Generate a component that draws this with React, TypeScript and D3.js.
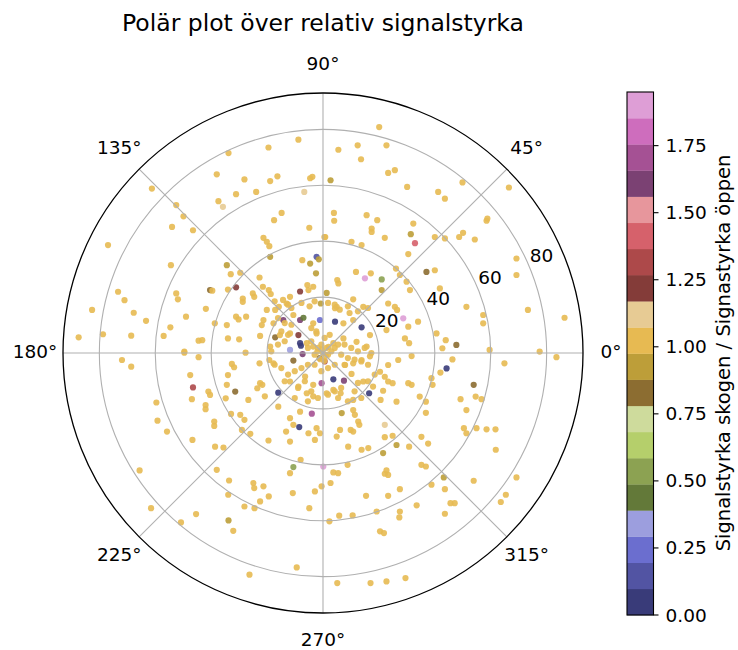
import React, { useEffect, useRef } from 'react';
import * as d3 from 'd3';

const TITLE = 'Polär plot över relativ signalstyrka';
const CBAR_LABEL = 'Signalstyrka skogen / Signastyrka öppen';
const angleTicks = [0, 45, 90, 135, 180, 225, 270, 315];
const radialTicks = [20, 40, 60, 80];
const colorTicks = [0, 0.25, 0.5, 0.75, 1.0, 1.25, 1.5, 1.75];
const R_MAX = 93;
const V_MAX = 1.95;
const RLABEL_ANGLE = 22.5;

const tab20b = [
  '#393b79', '#5254a3', '#6b6ecf', '#9c9ede', '#637939', '#8ca252', '#b5cf6b', '#cedb9c',
  '#8c6d31', '#bd9e39', '#e7ba52', '#e7cb94', '#843c39', '#ad494a', '#d6616b', '#e7969c',
  '#7b4173', '#a55194', '#ce6dbd', '#de9ed6',
];

// Each point: [east component, north component, ratio skog/öppen] (in radial units)
const nwPoints: number[][] = [
  [-8.8,76.3,1],[-19.5,73.5,1],[-33.8,71.5,1],[-38.0,63.9,1],[-28.1,62.1,1],[-18.9,61.5,1],[-16.3,63.2,1],[-4.6,62.5,1],
  [-3.8,63.0,1],[-61.2,58.8,1],[-31.1,56.8,1],[-23.9,57.6,1.05],[-37.4,54.3,1],[-35.8,52.3,1.1],[-6.7,57.6,1.1],[-52.5,52.9,1],
  [-49.9,48.9,1],[-14.8,50.1,1.05],[-17.5,47.5,1],[-54.0,45.1,1],[-46.5,43.9,1],[-4.9,44.8,1],[-76.9,38.6,1],[-21.3,41.2,1],
  [-20.1,39.8,1],[-19.2,38.2,1],[-18.9,34.4,0.93],[-54.4,31.4,1],[-34.4,31.4,0.93],[-33.0,28.2,1],[-29.6,28.7,1],[-22.7,27.0,1],
  [-7.4,33.2,1],[-4.6,32.0,0.93],[-2.3,34.4,0.15],[-1.5,33.5,0.93],[-2.5,28.5,0.93],[0.8,41.5,1],[-73.3,21.9,1],[-71.0,18.9,1],
  [-82.6,15.4,1],[-67.7,14.4,1],[-63.3,11.5,1],[-87.4,5.6,1],[-78.7,6.7,1],[-68.6,6.2,1],[-57.0,6.1,1],[-54.6,9.2,1],
  [-52.5,21.3,1],[-51.9,19.2,1],[-49.0,13.0,1],[-41.9,15.8,1],[-44.5,4.4,1],[-43.2,4.6,1],[-40.4,22.5,0.8],[-39.6,22.3,1],
  [-34.0,22.7,1],[-31.1,23.5,1.25],[-28.7,19.5,1],[-28.7,18.3,1],[-25.1,21.3,1],[-24.6,20.1,1],[-21.5,23.7,1],[-19.4,22.5,1],
  [-18.7,21.1,1],[-38.7,10.6,1],[-34.4,10.0,1],[-31.1,13.0,1],[-30.2,12.0,1],[-27.5,13.0,1],[-34.0,5.2,1],[-30.0,4.9,1],
  [-22.5,6.1,1],[-21.9,10.0,1],[-21.3,11.8,1],[-20.1,15.4,1],[-17.1,15.4,1],[-15.8,16.5,1],[-13.0,17.7,1],[-11.8,20.1,1],
  [-8.2,22.0,1.25],[-5.6,24.3,1],[-5.2,22.5,1],[-3.5,23.7,1],[-0.8,17.7,0.93],[-17.7,10.6,1],[-14.2,11.8,1.6],[-10.6,13.6,1],
  [-8.2,11.8,1.6],[-7.0,12.6,0.42],[-3.5,10.6,1],[-1.1,11.8,0.25],[-17.1,5.6,0.85],[-15.4,6.4,1],[-11.8,7.0,1],[-8.8,6.4,1.25],
  [-8.2,3.5,0.03],[-5.8,3.5,1],[-2.3,7.0,1],[-11.8,1.1,0.35],[-18.9,2.3,1],[-49.6,0.5,1],[-3.5,2.3,1],[-7.9,2.6,0.03],
];

const nePoints: number[][] = [
  [20.1,80.8,1],[5.5,72.7,1],[12.4,74.3,1],[13.6,69.3,1],[22.7,74.3,1],[23.3,64.4,1],[25.7,65.4,1],[2.7,61.8,0.93],
  [30.1,59.4,1],[41.2,57.6,1],[43.6,55.2,1],[49.9,61.0,1],[66.5,59.2,1],[3.9,50.1,1],[4.0,47.3,1],[15.6,49.3,1],
  [19.4,47.5,1],[17.4,44.5,1],[17.4,43.3,1],[22.1,41.2,1],[32.3,46.3,1],[31.4,42.5,0.93],[32.9,39.3,1.4],[40.0,41.5,1],
  [43.6,41.0,1],[48.7,41.5,1],[50.1,43.0,1],[54.3,40.6,1],[58.5,47.3,1],[58.8,48.1,1],[0.5,41.5,1],[10.2,39.8,1],
  [13.8,38.6,1],[30.5,35.4,1],[11.8,29.0,1],[17.1,28.5,1],[15.0,26.7,1.9],[21.0,26.3,0.55],[5.1,26.1,1],[5.5,24.9,1],
  [26.1,30.2,1],[27.5,27.9,1],[29.9,25.5,1],[31.1,22.5,1],[37.0,29.0,0.85],[40.0,29.6,1],[41.8,23.1,1],[21.0,22.5,0.93],
  [1.3,21.5,0.93],[10.8,19.2,1],[14.4,16.5,1],[23.3,17.7,1],[25.7,16.5,1],[26.5,15.4,1],[28.7,12.4,1.9],[34.0,11.2,1],
  [30.5,9.4,1],[51.3,16.5,1],[57.3,13.6,1],[57.3,10.6,1],[73.3,15.4,1],[86.4,12.6,1],[69.2,27.9,1],[69.2,33.8,1],
  [4.3,16.0,1],[4.9,16.5,1],[4.3,11.2,0.03],[13.8,9.2,0.03],[7.3,10.6,1],[10.8,11.8,1],[29.3,5.2,1],[30.8,3.5,1],
  [40.6,7.0,1],[43.9,4.6,1],[42.7,1.7,1],[47.7,2.9,0.85],[59.6,1.1,1],[77.5,0.5,1],[22.7,8.2,1],[16.8,6.4,1],
  [12.0,4.0,1],[7.3,5.2,1],[3.7,3.5,1],[15.6,2.3,1],
];

const swPoints: number[][] = [
  [-71.9,-2.5,1],[-68.6,-4.9,1],[-49.6,0.1,1],[-44.5,-1.5,1],[-47.5,-7.9,1],[-46.5,-12.3,1.3],[-46.9,-16.5,1],[-41.0,-13.8,1],
  [-40.4,-15.0,1],[-42.0,-18.6,1],[-42.0,-20.1,1],[-59.6,-17.7,1],[-59.2,-24.2,1],[-55.8,-28.1,1],[-46.7,-31.1,1],[-38.9,-24.5,1],
  [-38.9,-26.1,1],[-38.6,-33.5,1],[-35.6,-33.8,1],[-32.6,-3.9,1],[-31.8,-5.1,1],[-34.0,-7.9,1],[-34.4,-11.4,1],[-31.4,-13.8,0.85],
  [-34.8,-16.2,1],[-32.9,-21.8,1],[-29.6,-22.1,1],[-28.1,-23.9,1],[-29.0,-27.5,1],[-26.0,-28.9,1],[-26.7,-16.8,1],[-23.5,-12.6,1],
  [-22.5,-10.8,1],[-21.7,-11.4,1],[-20.8,-15.5,1],[-27.7,0.1,1],[-22.7,-3.7,1],[-19.2,-2.5,1],[-17.7,-3.7,1],[-16.0,-14.2,0.03],
  [-10.6,-2.7,0.8],[-7.3,-0.4,1.6],[-11.8,-10.2,1],[-8.8,-12.0,1],[-5.8,-14.4,1],[-3.5,-15.5,1],[-0.5,-10.8,1.7],[-6.4,-8.4,1],
  [-16.0,-19.2,1],[-11.8,-23.3,1],[-10.6,-25.7,1],[-8.5,-26.5,0.03],[-4.0,-21.7,1.7],[-2.3,-26.9,1],[-1.1,-28.7,1],[-5.2,-28.7,1],
  [-2.9,-31.1,1],[-11.8,-31.7,1],[-19.5,-31.3,1],[-13.2,-28.1,1],[-8.0,-38.2,1],[-10.6,-40.8,0.55],[-11.8,-43.0,1],[0.1,-40.6,1.9],
  [-38.0,-41.8,1],[-33.6,-45.6,1],[-24.9,-46.5,1],[-24.6,-48.3,1],[-21.3,-47.7,1],[-19.4,-51.3,1],[-22.5,-53.1,1],[-33.9,-50.7,1],
  [-28.1,-54.9,1],[-24.5,-55.5,1],[-10.8,-50.1,1],[-4.9,-55.5,1],[-2.9,-49.5,1],[-0.5,-47.7,1],[-65.6,-42.0,1],[-61.5,-55.5,1],
  [-45.4,-57.6,1],[-50.8,-60.6,1],[-33.8,-59.9,0.93],[-32.1,-63.6,1],[-26.3,-79.3,1],[-9.4,-76.7,1],[-3.5,-11.4,1],[-8.2,-21.0,1],
];

const sePoints: number[][] = [
  [44.2,-5.5,0.03],[46.3,-2.3,1],[64.9,-3.7,1],[83.5,-1.5,1],[3.7,-9.4,0.03],[7.5,-9.9,1.6],[16.5,-14.4,0.03],[23.3,-4.3,1],
  [26.9,-2.5,1],[31.7,-1.1,1],[10.8,-3.7,1],[13.8,-2.5,1],[16.8,-1.2,1],[7.9,-4.3,1],[10.2,-7.5,1],[14.4,-10.2,1],
  [17.9,-12.0,1],[22.1,-8.5,1],[23.3,-10.2,1],[24.9,-10.8,1],[30.5,-10.8,1],[31.7,-11.4,1],[38.8,-9.0,1],[39.2,-11.4,1],
  [42.0,-7.0,1],[53.9,-11.4,0.8],[54.6,-15.6,1],[56.7,-16.5,1],[49.2,-16.5,1],[51.3,-20.4,1],[34.6,-15.6,1],[36.8,-17.4,1],
  [26.3,-17.4,1],[20.6,-16.8,1],[21.5,-13.5,1],[10.8,-16.8,1],[10.8,-20.4,1],[11.4,-22.1,1],[6.7,-21.5,0.93],[12.6,-24.5,1],
  [13.0,-25.7,1],[6.1,-27.5,1],[9.9,-27.5,1],[10.8,-28.1,1],[4.9,-29.9,1],[22.1,-25.7,1.1],[22.1,-30.1,1],[24.9,-29.6,1],
  [36.8,-21.4,1],[30.8,-33.5,1],[26.3,-32.9,0.93],[35.2,-30.0,1],[37.6,-32.4,1],[50.4,-26.9,1],[51.3,-28.7,1],[54.9,-26.9,1],
  [58.5,-27.3,1],[61.7,-27.3,1],[61.8,-34.6,1],[13.8,-34.6,1],[16.2,-34.0,1],[21.5,-35.8,0.93],[9.0,-33.5,1],[35.2,-40.0,1],
  [36.8,-40.6,1],[43.2,-44.5,0.93],[22.7,-42.0,1],[23.3,-43.6,1],[22.1,-43.2,1],[8.8,-40.0,1],[3.7,-42.7,1],[5.4,-43.0,1],
  [2.7,-46.5,1],[38.8,-47.1,1],[43.6,-48.7,1],[27.5,-48.7,1],[15.4,-51.1,1],[23.3,-51.1,1],[19.2,-56.7,1],[27.5,-56.7,1],
  [27.3,-58.8,1],[33.5,-54.5,1],[43.6,-57.5,1],[45.6,-53.7,1],[47.1,-53.7,1],[53.9,-45.7,1],[65.4,-50.7,1],[63.6,-53.3,1],
  [69.2,-44.5,1],[5.8,-58.2,1],[10.6,-58.1,1],[2.3,-60.2,1],[20.4,-63.8,1],[21.8,-64.4,1],[5.1,-82.3,1],[17.0,-82.3,1],
  [22.7,-81.7,1],[29.5,-80.5,1],[6.3,-14.4,1],[3.7,-13.2,1],[1.3,-14.4,1],[20.4,-6.7,1],
];

const corePoints: number[][] = [
  [0.6,-3.0,1.3],[-1.2,-1.8,0.85],[12.5,-10.7,1],
  [-17.3,18.5,1],[-14.3,19.0,1],[-12.5,17.3,1],[-11.3,16.1,1],[-7.7,17.9,1],[-4.8,16.7,1],[-3.0,18.5,1],[1.8,17.9,1],
  [4.2,17.3,1],[6.0,15.5,1],[8.9,16.7,1],[9.5,14.3,1],[12.5,14.9,1],[16.1,16.1,1],[-16.1,12.5,1],[-13.7,10.7,1],
  [-11.3,10.1,1],[-4.2,8.9,1],[-2.4,7.7,1],[0.6,5.4,1],[2.4,6.5,1],[-0.6,3.0,1],[1.2,1.8,1],[-1.8,1.8,1],
  [0,0,1],[1.8,-0.6,1],[3.0,0.6,1],[4.2,1.8,1],[5.4,3.0,1],[7.7,3.0,1],[10.1,1.8,1],[12.5,0.6,1],
  [14.9,1.8,1],[17.3,0,1],[6.5,-0.6,1],[8.9,-1.8,1],[11.3,-2.4,1],[13.7,-3.0,1],[16.1,-4.2,1],[7.7,-4.2,1],
  [4.2,-4.2,1],[1.8,-5.4,1],[-0.6,-6.5,1],[-3.0,-4.2,1],[-5.4,-4.2,1],[-7.7,-5.4,1],[-10.1,-6.5,1],[-12.5,-7.7,1],
  [-14.9,-5.4,1],[-17.3,-4.2,1],[-18.5,0.6,1],[-16.1,3.0,1],[-13.7,4.2,1],[-12.5,6.5,1],[-14.9,7.7,1],[-4.2,4.2,1],
  [-5.4,1.8,1],[-3.0,-0.6,1],[-6.5,-10.1,1],[-8.9,-12.5,1],[-4.2,-13.7,1],[-1.8,-16.1,1],[1.8,-14.9,1],[5.4,-16.1,1],
  [8.9,-17.3,1],[11.3,-13.7,1],[13.7,-16.1,1],[16.1,-10.1,1],[18.5,-7.7,1],[-5.4,-17.3,1],[-10.1,-16.1,1],[-13.7,-10.1,1],
  [6.5,-12.5,1],[4.2,-13.7,1],[1.0,-1.0,1],[-1.0,-2.2,1],[2.0,2.2,1],[-2.0,0.5,1],[0.5,-2.8,1],[-0.5,1.2,1],
];

const W = 738;
const H = 650;
const CX = 323;
const CY = 353;
const RADIUS = 260;
const FONT = 'DejaVu Sans, Verdana, sans-serif';

export default function App() {
  const ref = useRef<SVGSVGElement>(null);

  useEffect(() => {
    const svg = d3.select(ref.current);
    svg.selectAll('*').remove();

    const rScale = d3.scaleLinear().domain([0, R_MAX]).range([0, RADIUS]);
    const aScale = d3.scaleLinear().domain([0, 360]).range([Math.PI / 2, Math.PI / 2 - 2 * Math.PI]);
    const color = d3.scaleQuantize<string>().domain([0, V_MAX]).range(tab20b);

    const pos = (thetaDeg: number, r: number, px = false) => {
      const [x, y] = d3.pointRadial(aScale(thetaDeg), px ? r : rScale(r));
      return [CX + x, CY + y];
    };

    svg.append('rect').attr('width', W).attr('height', H).attr('fill', '#fff');

    // Title
    svg.append('text')
      .attr('x', CX).attr('y', 31)
      .attr('text-anchor', 'middle')
      .attr('font-family', FONT).attr('font-size', 23.5)
      .attr('fill', '#000')
      .text(TITLE);

    const plot = svg.append('g');

    // Points
    const all = [...nwPoints, ...nePoints, ...swPoints, ...sePoints, ...corePoints].map(([e, n, v]) => {
      const theta = (Math.atan2(n, e) * 180) / Math.PI;
      const r = Math.hypot(e, n);
      return { theta, r, v };
    });
    plot.selectAll('circle.pt')
      .data(all)
      .join('circle')
      .attr('class', 'pt')
      .attr('cx', (d) => pos(d.theta, d.r)[0])
      .attr('cy', (d) => pos(d.theta, d.r)[1])
      .attr('r', 3.1)
      .attr('fill', (d) => color(d.v))
      .attr('fill-opacity', 0.9);

    // Grid circles
    plot.selectAll('circle.grid')
      .data(radialTicks)
      .join('circle')
      .attr('class', 'grid')
      .attr('cx', CX).attr('cy', CY)
      .attr('r', (d) => rScale(d))
      .attr('fill', 'none')
      .attr('stroke', '#b0b0b0')
      .attr('stroke-width', 1.1);

    // Spokes
    plot.selectAll('line.spoke')
      .data(angleTicks)
      .join('line')
      .attr('class', 'spoke')
      .attr('x1', CX).attr('y1', CY)
      .attr('x2', (d) => pos(d, RADIUS, true)[0])
      .attr('y2', (d) => pos(d, RADIUS, true)[1])
      .attr('stroke', '#b0b0b0')
      .attr('stroke-width', 1.1);

    // Outer boundary
    plot.append('circle')
      .attr('cx', CX).attr('cy', CY).attr('r', RADIUS)
      .attr('fill', 'none').attr('stroke', '#000').attr('stroke-width', 1.3);

    // Angle labels
    plot.selectAll('text.ang')
      .data(angleTicks)
      .join('text')
      .attr('class', 'ang')
      .attr('x', (d) => pos(d, RADIUS + 28, true)[0])
      .attr('y', (d) => pos(d, RADIUS + 28, true)[1] - 2)
      .attr('text-anchor', 'middle')
      .attr('dominant-baseline', 'central')
      .attr('font-family', FONT).attr('font-size', 18.5)
      .attr('fill', '#000')
      .text((d) => `${d}°`);

    // Radial labels
    plot.selectAll('text.rad')
      .data(radialTicks)
      .join('text')
      .attr('class', 'rad')
      .attr('x', (d) => pos(RLABEL_ANGLE, d)[0] + 12)
      .attr('y', (d) => pos(RLABEL_ANGLE, d)[1] - 11.5)
      .attr('text-anchor', 'middle')
      .attr('dominant-baseline', 'central')
      .attr('font-family', FONT).attr('font-size', 18.5)
      .attr('fill', '#000')
      .text((d) => `${d}`);

    // Colorbar
    const cbX = 627;
    const cbW = 26.5;
    const cScale = d3.scaleLinear().domain([0, V_MAX]).range([615, 92]);
    const step = V_MAX / tab20b.length;
    const cb = svg.append('g');
    cb.selectAll('rect.band')
      .data(tab20b)
      .join('rect')
      .attr('class', 'band')
      .attr('x', cbX)
      .attr('y', (_, i) => cScale((i + 1) * step))
      .attr('width', cbW)
      .attr('height', (_, i) => cScale(i * step) - cScale((i + 1) * step) + 0.3)
      .attr('fill', (d) => d);
    cb.append('rect')
      .attr('x', cbX).attr('y', cScale(V_MAX))
      .attr('width', cbW).attr('height', cScale(0) - cScale(V_MAX))
      .attr('fill', 'none').attr('stroke', '#000').attr('stroke-width', 1.1);
    const tk = cb.selectAll('g.tick').data(colorTicks).join('g').attr('class', 'tick')
      .attr('transform', (d) => `translate(${cbX + cbW},${cScale(d)})`);
    tk.append('line').attr('x1', 0).attr('x2', 5).attr('stroke', '#000').attr('stroke-width', 1.1);
    tk.append('text')
      .attr('x', 12).attr('y', 0)
      .attr('dominant-baseline', 'central')
      .attr('font-family', FONT).attr('font-size', 18.5)
      .attr('fill', '#000')
      .text((d) => d3.format('.2f')(d));

    svg.append('text')
      .attr('transform', `translate(723,353) rotate(-90)`)
      .attr('text-anchor', 'middle')
      .attr('dominant-baseline', 'central')
      .attr('font-family', FONT).attr('font-size', 19.5)
      .attr('fill', '#000')
      .text(CBAR_LABEL);
  }, []);

  return (
    <svg
      ref={ref}
      width={W}
      height={H}
      style={{ position: 'absolute', left: 0, top: 0, display: 'block' }}
    />
  );
}
